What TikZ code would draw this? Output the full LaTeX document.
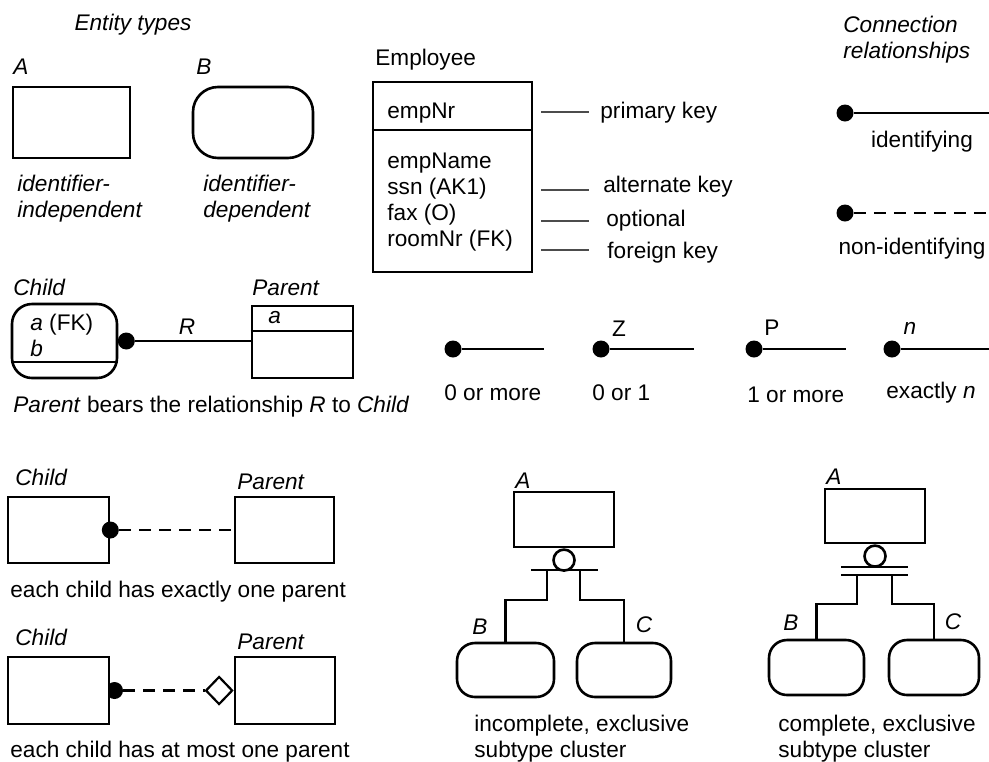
\documentclass[tikz,border=0pt]{standalone}
\usepackage{fontspec}
\setmainfont{Liberation Sans}
\usetikzlibrary{shapes.geometric}
\newcommand{\figfont}{\fontsize{11.3}{13}\selectfont}
\tikzset{every node/.style={inner sep=0pt, font=\figfont},
    lbl/.style={font=\figfont\itshape},
    wh/.style 2 args={minimum width=#1, minimum height=#2},
    entbox/.style={draw, rectangle, line width=1.3pt},
    depbox/.style={entbox, rounded corners=9pt},
    dot/.style={circle, fill, minimum size=8.5pt},
    rel/.style={line width=1.1pt},
    nonid/.style={rel, dash pattern=on 6pt off 4pt},
    keyline/.style={line width=0.6pt, black!70},
    bar/.style={line width=1.3pt},
    }

\begin{document}
\begin{tikzpicture}[x=0.5pt,y=-0.5pt]
	\fill[white] (0,0) rectangle (989,761);
	\useasboundingbox (0,0) rectangle (989,761);
	% entity types
	\node[lbl] (ettitle) at (133,25) {Entity types};
	\node[lbl, anchor=west] (la) at (13,67) {A};
	\node[entbox, wh={58.5pt}{35.5pt}] (ea) at (71.5,122.5) {};
	\node[lbl, anchor=west] (lb) at (196,67) {B};
	\node[entbox, rounded corners=12.5pt, wh={60pt}{35.5pt}] (eb) at (253,122.5) {};
	\node[lbl, anchor=west, align=left] (ia) at (17,199) {identifier-\\independent};
	\node[lbl, anchor=west, align=left] (ib) at (203,199) {identifier-\\dependent};
	% Employee
	\node[anchor=west] (empl) at (375,60) {Employee};
	\node[entbox, wh={79.5pt}{95pt}] (emp) at (452.5,177) {};
	\draw[bar] (emp.west |- 0,130) -- (emp.east |- 0,130);
	\node[anchor=west] (a0) at (387,113) {empNr};
	\node[anchor=west] (a1) at (387,163) {empName};
	\node[anchor=west] (a2) at (387,189) {ssn (AK1)};
	\node[anchor=west] (a3) at (387,215) {fax (O)};
	\node[anchor=west] (a4) at (387,241) {roomNr (FK)};
	\node[anchor=west] (kpk) at (600,113) {primary key};
	\node[anchor=west] (kak) at (603,187) {alternate key};
	\node[anchor=west] (kop) at (606,221) {optional};
	\node[anchor=west] (kfk) at (607,253) {foreign key};
	\draw[keyline] (541,112) -- (589,112);
	\draw[keyline] (541,190) -- (589,190);
	\draw[keyline] (541,221) -- (589,221);
	\draw[keyline] (541,250) -- (589,250);
	% connection relationships
	\node[lbl, anchor=west, align=left] (crt) at (843,40) {Connection\\relationships};
	\node[dot] (d1) at (845,113) {};
	\coordinate (e1) at (989,113);
	\draw[rel] (d1) -- (e1);
	\node (t1) at (922,142) {identifying};
	\node[dot] (d2) at (845,213) {};
	\coordinate (e2) at (989,213);
	\draw[nonid] (d2) -- (e2);
	\node (t2) at (912,249) {non-identifying};
	% Child -- R -- Parent
	\node[lbl, anchor=west] (lc) at (13,287) {Child};
	\node[entbox, rounded corners=10pt, wh={52.5pt}{37pt}] (ch) at (64.5,341) {};
	\draw[bar] (ch.west |- 0,362) -- (ch.east |- 0,362);
	\node[anchor=west] (ca) at (30,325) {\textit{a} (FK)};
	\node[lbl, anchor=west] (cb) at (30,348) {b};
	\node[dot, xshift=4pt] (cd) at (ch.east) {};
	\node[lbl, anchor=west] (lp) at (252,288) {Parent};
	\node[entbox, wh={50.5pt}{36pt}] (pa) at (302.5,342) {};
	\draw[bar] (pa.west |- 0,331) -- (pa.east |- 0,331);
	\node[lbl, anchor=west] (pa1) at (268,318) {a};
	\draw[rel] (cd) -- (cd -| pa.west);
	\node[lbl] (rr) at (187,327) {R};
	\node[anchor=west] (cap1) at (13,407) {\textit{Parent} bears the relationship \textit{R} to \textit{Child}};
	% cardinalities
	\node[dot] (k1) at (453,349) {};
	\coordinate (k1e) at (544,349);
	\draw[rel] (k1) -- (k1e);
	\node[anchor=west] (k1t) at (444,393) {0 or more};
	\node[dot] (k2) at (601,349) {};
	\coordinate (k2e) at (694,349);
	\draw[rel] (k2) -- (k2e);
	\node (k2s) at (619,329) {Z};
	\node[anchor=west] (k2t) at (592,393) {0 or 1};
	\node[dot] (k3) at (754,349) {};
	\coordinate (k3e) at (846,349);
	\draw[rel] (k3) -- (k3e);
	\node (k3s) at (772,328) {P};
	\node[anchor=west] (k3t) at (747,395) {1 or more};
	\node[dot] (k4) at (892,349) {};
	\coordinate (k4e) at (989,349);
	\draw[rel] (k4) -- (k4e);
	\node[lbl] (k4s) at (910,328) {n};
	\node[anchor=west] (k4t) at (886,393) {exactly \textit{n}};
	% exactly one parent
	\node[lbl, anchor=west] (lc2) at (15,477) {Child};
	\node[entbox, wh={50.5pt}{33pt}] (c2) at (58.5,530) {};
	\node[lbl, anchor=west] (lp2) at (237,482) {Parent};
	\node[entbox, wh={49.5pt}{33pt}] (p2) at (284.5,530) {};
	\node[dot] (c2d) at (c2.east) {};
	\draw[nonid] (c2d) -- (p2.west);
	\node[anchor=west] (cap2) at (10,592) {each child has exactly one parent};
	% at most one parent
	\node[lbl, anchor=west] (lc3) at (15,637) {Child};
	\node[dot, xshift=3pt] (c3d) at (108.5,690.5) {};
	\node[entbox, fill=white, wh={50.5pt}{33.5pt}] (c3) at (58.5,690.5) {};
	\node[lbl, anchor=west] (lp3) at (237,642) {Parent};
	\node[entbox, wh={50pt}{33.5pt}] (p3) at (285,690.5) {};
	\node[diamond, draw, fill=white, line width=1.1pt, wh={13.5pt}{14pt}, anchor=east] (dm) at (p3.west) {};
	\draw[nonid] (c3d) -- (dm);
	\node[anchor=west] (cap3) at (10,752) {each child has at most one parent};
	% incomplete subtype cluster
	\node[lbl, anchor=west] (sa1l) at (515,481) {A};
	\node[entbox, wh={50pt}{27.5pt}] (sa1) at (564,519.5) {};
	\node[circle, draw, line width=1.3pt, minimum size=10.5pt, anchor=north] (o1) at (sa1.south) {};
	\coordinate (j1l) at (547,570);
	\coordinate (j1r) at (580,570);
	\draw[bar] (531,570) -- (598,570);
	\node[depbox, wh={48.5pt}{27pt}] (sb1) at (505.5,670) {};
	\node[depbox, wh={47pt}{27pt}] (sc1) at (624,670) {};
	\draw[bar] (j1l) -- ++(0,30) -| (sb1.north);
	\draw[bar] (j1r) -- ++(0,30) -| (sc1.north);
	\node[lbl] (sb1l) at (480,627) {B};
	\node[lbl] (sc1l) at (644,625) {C};
	\node[anchor=west, align=left] (cap4) at (474,739) {incomplete, exclusive\\subtype cluster};
	% complete subtype cluster
	\node[lbl, anchor=west] (sa2l) at (826,477) {A};
	\node[entbox, wh={50pt}{27pt}] (sa2) at (875,516) {};
	\node[circle, draw, line width=1.3pt, minimum size=10.5pt, anchor=north] (o2) at (sa2.south) {};
	\coordinate (j2l) at (857,575);
	\coordinate (j2r) at (892,575);
	\draw[bar] (841,567) -- (908,567);
	\draw[bar] (841,575) -- (908,575);
	\node[depbox, wh={47.5pt}{27.5pt}] (sb2) at (816.5,667.5) {};
	\node[depbox, wh={45pt}{27.5pt}] (sc2) at (934,667.5) {};
	\draw[bar] (j2l) -- ++(0,29) -| (sb2.north);
	\draw[bar] (j2r) -- ++(0,29) -| (sc2.north);
	\node[lbl] (sb2l) at (791,623) {B};
	\node[lbl] (sc2l) at (953,622) {C};
	\node[anchor=west, align=left] (cap5) at (778,739) {complete, exclusive\\subtype cluster};
\end{tikzpicture}
\end{document}
